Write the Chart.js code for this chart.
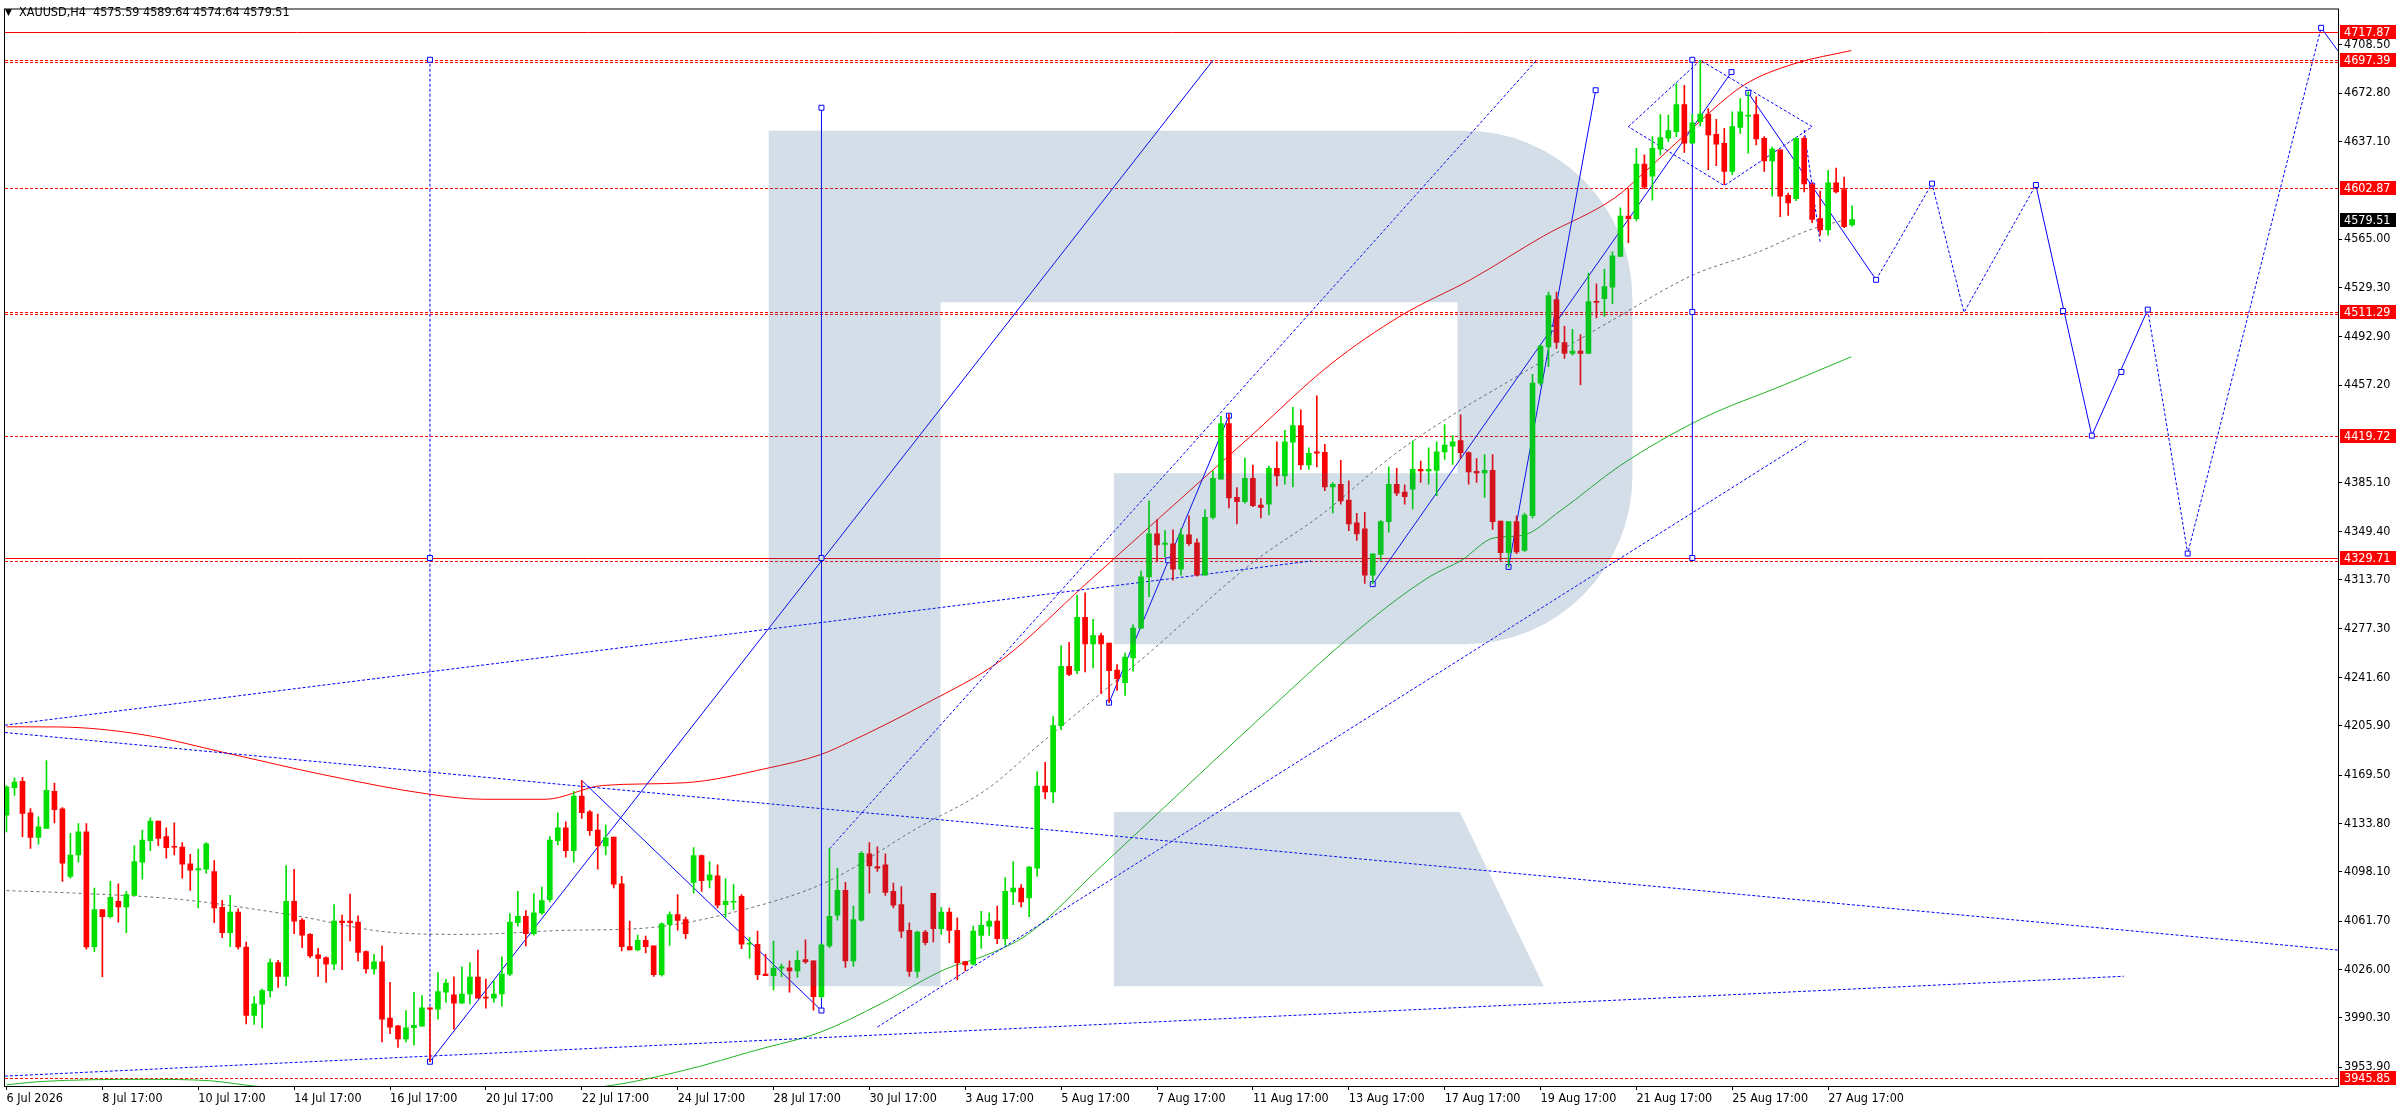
<!DOCTYPE html>
<html>
<head>
<meta charset="utf-8">
<title>XAUUSD,H4</title>
<script src="https://cdn.jsdelivr.net/npm/chart.js@4.4.1/dist/chart.umd.min.js"></script>
<style>
html, body { margin: 0; padding: 0; background: #ffffff; }
#chart_canvas { display: block; width: 2396px; height: 1110px; }
</style>
</head>
<body>
<canvas id="chart_canvas" width="2396" height="1110"></canvas>
<script>
//Candles (H4 bars, index 0 = first bar on screen)
var candleOpen = [
    4139.9, 4160.1, 4164.8, 4141.6, 4123.5, 4130.1, 4157.4, 4144.5, 4094.7, 4110.5, 4127.6, 4042.9,
    4070.2, 4064.9, 4076.3, 4072.2, 4080.7, 4105.2, 4121.0, 4135.5, 4124.0, 4116.6, 4116.4, 4104.0,
    4099.5, 4100.0, 4098.3, 4071.9, 4053.1, 4068.3, 4042.6, 3992.1, 4000.4, 4010.4, 4031.1, 4020.9,
    4076.3, 4062.4, 4051.9, 4036.8, 4034.8, 4029.9, 4061.7, 4061.7, 4061.0, 4039.2, 4026.5, 4031.6,
    3990.1, 3984.5, 3974.7, 3983.0, 3984.2, 3997.7, 3996.7, 4009.2, 4007.2, 4001.1, 4007.9, 4020.4,
    4005.5, 4004.8, 4007.9, 4022.6, 4060.5, 4065.3, 4052.4, 4067.8, 4077.6, 4121.0, 4130.6, 4113.7,
    4154.0, 4142.3, 4128.9, 4117.1, 4123.7, 4089.3, 4042.9, 4040.4, 4047.5, 4043.4, 4022.1, 4059.2,
    4066.6, 4062.9, 4090.3, 4110.0, 4091.9, 4095.1, 4073.9, 4075.6, 4080.0, 4044.6, 4044.6, 4022.6,
    4021.4, 4027.0, 4027.2, 4025.0, 4033.3, 4032.4, 4006.0, 4043.4, 4066.1, 4084.4, 4032.4, 4062.4,
    4111.3, 4102.0, 4103.2, 4083.7, 4073.9, 4054.8, 4024.5, 4053.6, 4082.2, 4056.1, 4068.3, 4054.8,
    4031.9, 4029.9, 4051.2, 4058.0, 4061.7, 4048.7, 4083.2, 4086.1, 4078.8, 4100.8, 4161.4, 4157.0,
    4206.0, 4249.8, 4246.6, 4285.9, 4266.2, 4272.5, 4266.9, 4246.9, 4237.6, 4255.9, 4277.9, 4315.7,
    4347.5, 4339.7, 4340.2, 4321.4, 4346.8, 4340.9, 4317.0, 4359.7, 4387.8, 4428.9, 4374.4, 4371.2,
    4388.5, 4368.8, 4369.5, 4395.9, 4390.3, 4415.2, 4427.4, 4398.3, 4408.1, 4407.6, 4382.2, 4384.1,
    4372.4, 4355.6, 4351.2, 4317.0, 4332.3, 4356.5, 4384.1, 4378.3, 4380.5, 4395.1, 4393.9, 4394.4,
    4407.9, 4412.2, 4416.4, 4407.4, 4393.7, 4392.5, 4394.4, 4357.0, 4333.6, 4356.5, 4335.3, 4360.9,
    4458.7, 4485.5, 4520.5, 4488.7, 4480.7, 4482.4, 4480.7, 4519.0, 4521.0, 4529.5, 4552.2, 4582.0,
    4580.1, 4620.4, 4611.4, 4631.4, 4639.5, 4644.3, 4664.4, 4635.8, 4651.7, 4657.3, 4642.4, 4635.8,
    4615.0, 4647.5, 4655.8, 4657.0, 4639.5, 4622.8, 4630.9, 4597.4, 4594.8, 4639.5, 4605.3, 4580.1,
    4571.8, 4606.5, 4601.6, 4575.59
];
var candleHigh = [
    4161.8, 4167.5, 4167.9, 4144.7, 4138.6, 4180.2, 4163.6, 4145.5, 4126.4, 4133.7, 4133.7, 4086.1,
    4070.2, 4091.0, 4089.3, 4083.7, 4117.4, 4128.9, 4137.9, 4135.5, 4130.6, 4134.2, 4119.6, 4111.0,
    4114.9, 4119.6, 4106.4, 4077.1, 4080.7, 4070.7, 4046.3, 4006.0, 4011.6, 4033.6, 4032.8, 4102.7,
    4100.0, 4063.6, 4052.4, 4041.6, 4035.3, 4073.9, 4066.1, 4081.7, 4065.6, 4039.7, 4037.2, 4043.4,
    4016.5, 3984.7, 3995.7, 4009.2, 4006.7, 3997.7, 4023.8, 4018.7, 4020.6, 4028.0, 4031.1, 4040.4,
    4018.9, 4017.7, 4035.3, 4067.3, 4083.7, 4069.5, 4082.0, 4086.8, 4124.0, 4141.6, 4135.0, 4157.4,
    4165.5, 4143.5, 4140.6, 4132.5, 4123.7, 4094.7, 4061.7, 4051.4, 4050.7, 4043.4, 4060.5, 4068.5,
    4081.2, 4064.6, 4115.9, 4110.5, 4105.7, 4103.2, 4092.9, 4088.6, 4081.2, 4049.5, 4054.3, 4037.2,
    4047.0, 4029.9, 4032.4, 4039.7, 4047.8, 4032.4, 4045.0, 4115.4, 4100.8, 4090.3, 4072.7, 4113.0,
    4119.6, 4116.6, 4111.3, 4089.8, 4087.1, 4060.5, 4054.3, 4054.8, 4082.2, 4071.9, 4071.4, 4064.1,
    4031.9, 4058.0, 4069.0, 4067.8, 4072.7, 4093.9, 4105.7, 4088.6, 4102.0, 4172.1, 4178.9, 4212.7,
    4264.9, 4267.4, 4302.3, 4304.0, 4284.5, 4274.2, 4266.9, 4251.0, 4259.6, 4280.3, 4320.1, 4371.9,
    4358.0, 4349.9, 4350.4, 4351.2, 4360.9, 4343.8, 4365.3, 4393.9, 4434.2, 4435.9, 4381.7, 4403.7,
    4398.3, 4373.6, 4397.6, 4415.4, 4424.0, 4440.8, 4439.1, 4411.0, 4449.4, 4413.5, 4385.4, 4401.7,
    4386.6, 4362.7, 4363.4, 4332.8, 4357.3, 4396.9, 4395.9, 4383.7, 4415.9, 4401.3, 4411.0, 4415.4,
    4428.1, 4420.1, 4435.4, 4408.1, 4403.0, 4406.1, 4406.1, 4357.0, 4356.5, 4360.9, 4362.9, 4465.3,
    4487.0, 4525.9, 4525.9, 4500.7, 4498.5, 4494.6, 4540.0, 4532.0, 4543.0, 4555.7, 4588.2, 4602.3,
    4632.1, 4627.2, 4640.7, 4657.0, 4656.6, 4679.8, 4678.5, 4657.3, 4696.9, 4661.4, 4653.4, 4646.8,
    4659.0, 4668.8, 4673.7, 4670.0, 4640.7, 4632.9, 4630.9, 4599.1, 4640.0, 4640.7, 4606.5, 4600.4,
    4615.8, 4617.5, 4610.9, 4589.64
];
var candleLow = [
    4127.6, 4154.5, 4124.0, 4115.4, 4118.4, 4130.1, 4134.2, 4091.0, 4093.4, 4105.2, 4040.9, 4039.2,
    4020.6, 4064.1, 4060.9, 4053.1, 4080.7, 4092.7, 4113.7, 4117.4, 4108.1, 4110.5, 4093.4, 4084.4,
    4071.4, 4097.1, 4060.5, 4049.5, 4042.9, 4040.9, 3985.9, 3985.5, 3982.8, 4005.5, 4012.8, 4014.0,
    4052.4, 4042.1, 4034.8, 4020.9, 4016.5, 4025.8, 4025.8, 4047.0, 4032.4, 4023.3, 4022.6, 3972.5,
    3978.6, 3968.4, 3972.5, 3970.1, 3984.2, 3957.9, 3989.4, 4001.8, 3982.0, 4001.1, 4000.6, 4004.8,
    3997.4, 4001.8, 3998.9, 4021.4, 4058.0, 4043.4, 4051.4, 4066.6, 4075.8, 4117.9, 4108.8, 4105.2,
    4137.4, 4125.0, 4100.0, 4110.5, 4086.1, 4039.7, 4040.4, 4039.7, 4038.2, 4020.9, 4021.0, 4043.8,
    4055.1, 4048.7, 4082.4, 4083.7, 4086.1, 4071.4, 4064.6, 4070.2, 4041.4, 4034.1, 4018.4, 4021.4,
    4010.9, 4020.6, 4009.2, 4020.1, 4030.4, 3996.0, 4005.0, 4042.1, 4062.4, 4027.5, 4028.2, 4061.7,
    4082.4, 4098.3, 4080.7, 4071.4, 4049.5, 4020.9, 4020.1, 4044.1, 4046.3, 4051.9, 4045.8, 4018.2,
    4025.0, 4029.4, 4041.6, 4051.2, 4045.1, 4044.1, 4073.9, 4072.2, 4064.9, 4094.7, 4152.1, 4149.1,
    4203.0, 4242.9, 4244.4, 4245.6, 4248.6, 4229.5, 4222.9, 4232.0, 4228.3, 4246.1, 4277.9, 4301.1,
    4326.7, 4330.4, 4313.3, 4317.0, 4339.0, 4316.2, 4317.0, 4358.5, 4387.8, 4366.6, 4354.8, 4370.2,
    4367.6, 4359.2, 4361.4, 4382.9, 4384.1, 4382.2, 4395.1, 4395.1, 4396.9, 4379.3, 4362.9, 4369.5,
    4349.9, 4342.6, 4310.9, 4310.9, 4327.9, 4348.7, 4375.6, 4369.5, 4365.8, 4385.4, 4384.1, 4375.6,
    4402.5, 4398.8, 4403.2, 4384.1, 4385.4, 4374.4, 4350.7, 4327.9, 4323.1, 4332.8, 4334.6, 4359.0,
    4457.0, 4470.9, 4484.3, 4477.0, 4479.4, 4457.5, 4480.7, 4506.8, 4508.0, 4517.3, 4552.2, 4562.5,
    4578.4, 4602.3, 4593.8, 4627.2, 4637.0, 4640.7, 4629.0, 4635.8, 4648.5, 4616.3, 4619.2, 4605.3,
    4612.6, 4643.1, 4628.5, 4634.6, 4615.0, 4596.7, 4581.6, 4582.5, 4593.5, 4599.9, 4577.2, 4567.9,
    4567.9, 4599.2, 4573.5, 4574.64
];
var candleClose = [
    4160.6, 4164.3, 4141.1, 4123.5, 4131.3, 4158.2, 4144.0, 4104.4, 4110.5, 4127.6, 4042.6, 4070.2,
    4064.9, 4079.3, 4072.2, 4081.2, 4105.7, 4121.5, 4135.5, 4122.8, 4115.9, 4116.2, 4103.7, 4099.3,
    4100.5, 4118.8, 4071.4, 4053.1, 4068.3, 4042.6, 3992.1, 4000.6, 4010.4, 4031.1, 4020.9, 4076.3,
    4061.7, 4051.4, 4036.0, 4034.1, 4029.9, 4061.7, 4060.5, 4060.5, 4038.5, 4026.5, 4031.6, 3989.4,
    3983.5, 3974.7, 3983.0, 3984.7, 3997.7, 3996.7, 4009.6, 4016.0, 4001.1, 4007.9, 4020.4, 4004.8,
    4004.8, 4007.9, 4022.6, 4061.0, 4065.3, 4052.4, 4067.8, 4076.8, 4121.5, 4130.6, 4113.7, 4154.0,
    4141.8, 4128.4, 4117.1, 4123.2, 4089.0, 4042.9, 4040.4, 4047.5, 4042.9, 4022.1, 4059.7, 4066.6,
    4062.2, 4052.4, 4110.0, 4091.5, 4095.9, 4073.4, 4076.3, 4076.3, 4044.6, 4045.3, 4022.1, 4021.4,
    4027.0, 4028.0, 4025.0, 4032.8, 4031.6, 4006.0, 4044.1, 4065.3, 4084.4, 4032.4, 4062.9, 4111.8,
    4102.5, 4100.8, 4082.9, 4073.4, 4054.3, 4024.5, 4053.6, 4045.8, 4056.1, 4068.3, 4054.8, 4031.1,
    4029.4, 4054.3, 4058.5, 4061.7, 4048.7, 4083.7, 4086.1, 4075.8, 4101.5, 4161.4, 4157.0, 4206.0,
    4249.8, 4243.7, 4285.9, 4266.2, 4272.5, 4266.2, 4246.6, 4240.7, 4256.6, 4277.9, 4315.7, 4347.5,
    4339.4, 4340.7, 4321.4, 4346.8, 4340.2, 4317.0, 4359.7, 4388.5, 4428.9, 4374.1, 4371.2, 4388.5,
    4368.3, 4367.1, 4395.9, 4390.3, 4415.4, 4427.4, 4398.3, 4406.9, 4407.1, 4382.2, 4384.1, 4371.9,
    4354.8, 4347.5, 4317.0, 4332.8, 4356.5, 4384.1, 4377.6, 4374.9, 4395.1, 4393.9, 4395.1, 4408.1,
    4413.0, 4415.4, 4407.4, 4393.2, 4392.5, 4394.4, 4356.5, 4333.6, 4356.5, 4334.1, 4361.4, 4458.7,
    4486.0, 4523.4, 4488.7, 4480.7, 4482.4, 4480.7, 4519.0, 4518.3, 4530.0, 4552.7, 4582.0, 4580.1,
    4620.4, 4603.3, 4632.1, 4640.0, 4645.1, 4664.4, 4635.8, 4650.9, 4657.3, 4641.9, 4635.1, 4615.0,
    4648.0, 4659.0, 4656.6, 4639.0, 4622.8, 4631.4, 4596.7, 4591.8, 4639.5, 4605.7, 4579.6, 4571.8,
    4606.5, 4599.9, 4574.2, 4579.51
];

//Time axis (bar index of each label)
var timeTickBars = [0, 12, 24, 36, 48, 60, 72, 84, 96, 108, 120, 132, 144, 156, 168, 180, 192, 204, 216, 228];
var timeTickLabels = ['6 Jul 2026', '8 Jul 17:00', '10 Jul 17:00', '14 Jul 17:00', '16 Jul 17:00', '20 Jul 17:00',
    '22 Jul 17:00', '24 Jul 17:00', '28 Jul 17:00', '30 Jul 17:00', '3 Aug 17:00', '5 Aug 17:00', '7 Aug 17:00',
    '11 Aug 17:00', '13 Aug 17:00', '17 Aug 17:00', '19 Aug 17:00', '21 Aug 17:00', '25 Aug 17:00', '27 Aug 17:00'];

//Price axis
var priceTicks = [4708.50, 4672.80, 4637.10, 4565.00, 4529.30, 4492.90, 4457.20, 4385.10, 4349.40, 4313.70,
    4277.30, 4241.60, 4205.90, 4169.50, 4133.80, 4098.10, 4061.70, 4026.00, 3990.30, 3953.90];

//Horizontal levels
var levelPrices = [4717.87, 4697.39, 4602.87, 4511.29, 4419.72, 4329.71, 3945.85];
var levelKinds = ['solid', 'double', 'dash', 'double', 'dash', 'solid+dash', 'dash'];
var lastPrice = 4579.51;
var symbolTitle = 'XAUUSD,H4  4575.59 4589.64 4574.64 4579.51';

//Moving averages (bar, value)
var redMaBars = [0, 6.4, 16.6, 28.6, 39.7, 53.1, 59.8, 67.4, 74.6, 84.9, 95.2, 101.9, 105.4, 115, 124.6, 135, 145,
    155.8, 165.6, 174.6, 183.4, 192.4, 201.3, 204.9, 210.3, 217.4, 223.7, 230.9];
var redMaValues = [4205.1, 4205, 4199.7, 4184.3, 4169.7, 4155.2, 4151.6, 4151.6, 4161.8, 4163.8, 4174.5, 4184.6, 4193.6,
    4222, 4254.7, 4310, 4363, 4420, 4472.1, 4508.8, 4535.6, 4567.4, 4595.5, 4613.8, 4643.1, 4678.5, 4694.4, 4704.2];
var greenMaBars = [0, 4, 17.4, 25.4, 31.7, 53, 74.6, 84.9, 93.8, 101.9, 109.4, 117.5, 122.9, 127.8, 137, 156.3,
    169.2, 178.1, 182.1, 186.2, 189.7, 194.5, 202, 212, 222.5, 230.9];
var greenMaValues = [3940.8, 3943.2, 3944.9, 3943.9, 3939.5, 3933, 3939.5, 3951.7, 3966.4, 3979.8, 4000.6, 4026.2,
    4037.2, 4051.9, 4102, 4208.3, 4276.7, 4315.8, 4328, 4344.6, 4346.3, 4364.6, 4398, 4432, 4457.5, 4478.2];
var grayMaBars = [0, 8.4, 21.9, 35.3, 48.7, 57.6, 69.5, 80.4, 91.5, 102.8, 113.9, 122.8, 129.6, 132.6, 142.5,
    155.8, 164.7, 173.7, 181.7, 188, 201.3, 211.1, 219.1, 225.9, 230.3];
var grayMaValues = [4084.2, 4082.4, 4077.6, 4066.6, 4053.1, 4051.9, 4054.8, 4056.8, 4069, 4091, 4130, 4159.4, 4193.6,
    4208.3, 4257.1, 4325.5, 4362.2, 4406.1, 4437.9, 4460, 4506.3, 4538.6, 4555.2, 4572.3, 4579.6];

//Drawn objects, each a list of [bar, price] points
var solidLines = [
    [[53, 3957.9], [151, 4697]],
    [[72, 4165.5], [102, 3995.7]],
    [[102, 3995.7], [102, 4662]],
    [[138, 4222.9], [153, 4434.7]],
    [[171, 4310.4], [215.9, 4688.3]],
    [[188, 4323.1], [198.9, 4674.9]],
    [[211, 4329.7], [211, 4697.4]],
    [[218, 4673], [234, 4535]],
    [[254, 4605], [261, 4420], [268, 4513]],
    [[289.7, 4721], [291.8, 4704]]
];
var dottedLines = [
    [[53, 3957.9], [53, 4697.4]],
    [[-0.2, 4200.9], [291.8, 4040.3]],
    [[-0.2, 4206.3], [163.3, 4327.5]],
    [[-0.2, 3947.3], [265, 4021]],
    [[103, 4115], [191.5, 4697]],
    [[109, 3983.5], [225.5, 4417]],
    [[203, 4648], [212, 4697], [226, 4648], [215, 4604.5], [203, 4648]],
    [[225, 4645.6], [227, 4562.5]],
    [[234, 4535], [241, 4606], [245, 4511], [254, 4605]],
    [[268, 4513], [273, 4333], [289.7, 4721]]
];
var markerBars = [53, 53, 53, 102, 102, 102, 138, 145.4, 153, 171, 188, 193.5, 198.9, 215.9, 211, 211, 211,
    218, 226, 234, 241, 254, 257.4, 261, 264.7, 268, 273, 289.7];
var markerPrices = [4697.4, 4329.7, 3957.9, 4662, 4329.7, 3995.7, 4222.9, 4328, 4434.7, 4310.4, 4323.1, 4499,
    4674.9, 4688.3, 4697.4, 4511.3, 4329.7, 4673, 4604.5, 4535, 4606, 4605, 4512, 4420, 4467, 4513, 4333, 4721];

var upColor = '#00e000',
    downColor = '#ff0000',
    blue = '#0000ff';
var axisFont = '"DejaVu Sans Condensed", "DejaVu Sans", sans-serif';

function toPoints(bars, values) {
    var pts = [];
    for (var i = 0; i < bars.length; i++)
        pts.push({ x: bars[i], y: values[i] });
    return pts;
}

//Datasets
var datasets = [];
var wickData = [],
    bodyData = [],
    candleColors = [];
for (var i = 0; i < candleOpen.length; i++) {
    wickData.push({ x: i, y: [candleLow[i], candleHigh[i]] });
    bodyData.push({ x: i, y: [Math.min(candleOpen[i], candleClose[i]), Math.max(candleOpen[i], candleClose[i])] });
    candleColors.push(candleClose[i] >= candleOpen[i] ? upColor : downColor);
}
datasets.push({
    type: 'bar', data: bodyData, backgroundColor: candleColors, borderWidth: 0,
    barThickness: 5, grouped: false, minBarLength: 1, order: 0
});
datasets.push({
    type: 'bar', data: wickData, backgroundColor: candleColors, borderWidth: 0,
    barThickness: 1, grouped: false, minBarLength: 1, order: 1
});
datasets.push({
    type: 'line', data: toPoints(markerBars, markerPrices), showLine: false,
    pointStyle: 'rect', pointRadius: 3.5, pointBorderColor: blue, pointBackgroundColor: '#ffffff',
    pointBorderWidth: 1, order: 2
});
solidLines.forEach(function(line) {
    datasets.push({
        type: 'line', data: line.map(function(p) { return { x: p[0], y: p[1] }; }),
        borderColor: blue, borderWidth: 1, pointRadius: 0, tension: 0, fill: false, order: 3
    });
});
dottedLines.forEach(function(line) {
    datasets.push({
        type: 'line', data: line.map(function(p) { return { x: p[0], y: p[1] }; }),
        borderColor: blue, borderWidth: 1, borderDash: [3, 2], pointRadius: 0, tension: 0, fill: false, order: 4
    });
});
datasets.push({
    type: 'line', data: toPoints(redMaBars, redMaValues), borderColor: '#ff0000', borderWidth: 1,
    pointRadius: 0, cubicInterpolationMode: 'monotone', fill: false, order: 5
});
datasets.push({
    type: 'line', data: toPoints(greenMaBars, greenMaValues), borderColor: '#22b422', borderWidth: 1,
    pointRadius: 0, cubicInterpolationMode: 'monotone', fill: false, order: 5
});
datasets.push({
    type: 'line', data: toPoints(grayMaBars, grayMaValues), borderColor: '#707070', borderWidth: 1,
    borderDash: [3, 3], pointRadius: 0, cubicInterpolationMode: 'monotone', fill: false, order: 5
});

//Price levels under everything else
var levelsPlugin = {
    id: 'levels',
    beforeDatasetsDraw: function(chart) {
        var ctx = chart.ctx, area = chart.chartArea, ys = chart.scales.y;
        ctx.save();
        ctx.beginPath();
        ctx.rect(area.left, area.top, area.right - area.left, area.bottom - area.top);
        ctx.clip();
        ctx.strokeStyle = '#ff0000';
        ctx.lineWidth = 1;
        function hline(y, dash) {
            ctx.setLineDash(dash);
            ctx.beginPath();
            ctx.moveTo(area.left, y);
            ctx.lineTo(area.right, y);
            ctx.stroke();
        }
        for (var k = 0; k < levelPrices.length; k++) {
            var y = Math.round(ys.getPixelForValue(levelPrices[k])) + 0.5;
            var kind = levelKinds[k];
            if (kind == 'solid') hline(y, []);
            if (kind == 'dash') hline(y, [3, 2]);
            if (kind == 'double') { hline(y, [3, 2]); hline(y + 2, [3, 2]); }
            if (kind == 'solid+dash') { hline(y, []); hline(y + 3, [3, 2]); }
        }
        ctx.restore();
    }
};

//Logo watermark, laid over the candles like the terminal does
var watermarkPlugin = {
    id: 'watermark',
    afterDatasetsDraw: function(chart) {
        var ctx = chart.ctx, area = chart.chartArea, xs = chart.scales.x, ys = chart.scales.y;
        function px(v) { return xs.getPixelForValue(v); }
        function py(v) { return ys.getPixelForValue(v); }
        ctx.save();
        ctx.beginPath();
        ctx.rect(area.left, area.top, area.right - area.left, area.bottom - area.top);
        ctx.clip();
        ctx.fillStyle = 'rgba(40, 90, 145, 0.2)';
        var r = px(203.5) - px(182.5);
        ctx.beginPath();
        ctx.moveTo(px(95.4), py(4645.1));
        ctx.lineTo(px(182.5), py(4645.1));
        ctx.arcTo(px(203.5), py(4645.1), px(203.5), py(4645.1) + r, r);
        ctx.lineTo(px(203.5), py(4266.1) - r);
        ctx.arcTo(px(203.5), py(4266.1), px(203.5) - r, py(4266.1), r);
        ctx.lineTo(px(138.6), py(4266.1));
        ctx.lineTo(px(138.6), py(4392.2));
        ctx.lineTo(px(181.6), py(4392.2));
        ctx.lineTo(px(181.6), py(4518.5));
        ctx.lineTo(px(116.9), py(4518.5));
        ctx.lineTo(px(116.9), py(4013.6));
        ctx.lineTo(px(95.4), py(4013.6));
        ctx.closePath();
        ctx.moveTo(px(138.6), py(4142.3));
        ctx.lineTo(px(181.9), py(4142.3));
        ctx.lineTo(px(192.4), py(4013.6));
        ctx.lineTo(px(138.6), py(4013.6));
        ctx.closePath();
        ctx.fill();
        ctx.restore();
    }
};

//Frame, title and price tags
var decorPlugin = {
    id: 'decor',
    afterDraw: function(chart) {
        var ctx = chart.ctx, area = chart.chartArea, ys = chart.scales.y;
        ctx.save();
        ctx.strokeStyle = '#000000';
        ctx.lineWidth = 1;
        ctx.setLineDash([]);
        ctx.strokeRect(area.left - 0.5, area.top - 0.5, area.right - area.left + 1, area.bottom - area.top + 1);

        ctx.fillStyle = '#000000';
        ctx.textBaseline = 'middle';
        ctx.font = '9px "DejaVu Sans"';
        ctx.fillText('\u25BC', 5, 13);
        ctx.font = '12.5px ' + axisFont;
        ctx.fillText(symbolTitle, 19, 13);

        function tag(value, color) {
            var y = Math.round(ys.getPixelForValue(value));
            ctx.fillStyle = color;
            ctx.fillRect(area.right + 2, y - 7, 56, 14);
            ctx.fillStyle = '#ffffff';
            ctx.fillText(value.toFixed(2), area.right + 6, y + 0.5);
        }
        for (var k = 0; k < levelPrices.length; k++)
            tag(levelPrices[k], '#ff0000');
        tag(lastPrice, '#000000');
        ctx.restore();
    }
};

var ctx = document.getElementById('chart_canvas').getContext('2d');
var priceChart = new Chart(ctx, {
    type: 'bar',
    data: { datasets: datasets },
    options: {
        responsive: false,
        animation: false,
        devicePixelRatio: 1,
        events: [],
        layout: { padding: { left: 2, top: 2, right: 0, bottom: 0 } },
        plugins: { legend: { display: false }, tooltip: { enabled: false } },
        scales: {
            x: {
                type: 'linear',
                position: 'bottom',
                min: -0.1875,
                max: 291.8125,
                offset: false,
                grid: { drawOnChartArea: false, drawTicks: true, tickLength: 4, color: '#000000', offset: false },
                border: { display: true, color: '#000000' },
                ticks: {
                    autoSkip: false, maxRotation: 0, align: 'start', padding: 1, color: '#000000',
                    font: { family: axisFont, size: 12.5 },
                    callback: function(value, index) { return timeTickLabels[index]; }
                },
                afterBuildTicks: function(scale) {
                    scale.ticks = timeTickBars.map(function(b) { return { value: b }; });
                },
                afterFit: function(scale) { scale.height = 24; }
            },
            y: {
                type: 'linear',
                position: 'right',
                min: 3940.0,
                max: 4734.5,
                beginAtZero: false,
                grid: { drawOnChartArea: false, drawTicks: true, tickLength: 4, color: '#000000' },
                border: { display: true, color: '#000000' },
                ticks: {
                    autoSkip: false, padding: 2, color: '#000000',
                    font: { family: axisFont, size: 12.5 },
                    callback: function(value) { return Number(value).toFixed(2); }
                },
                afterBuildTicks: function(scale) {
                    scale.ticks = priceTicks.map(function(p) { return { value: p }; });
                },
                afterFit: function(scale) { scale.width = 58; }
            }
        }
    },
    plugins: [levelsPlugin, watermarkPlugin, decorPlugin]
});
</script>
</body>
</html>
